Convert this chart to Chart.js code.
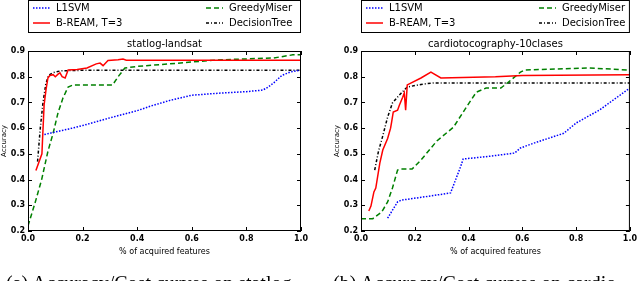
<!DOCTYPE html>
<html>
<head>
<meta charset="utf-8">
<script src="https://cdn.jsdelivr.net/npm/chart.js@4/dist/chart.umd.min.js"></script>
<style>
  html, body { margin: 0; padding: 0; background: #fff; overflow: hidden; }
  body { width: 640px; height: 281px; position: relative; }
  canvas { position: absolute; top: 0; }
  .caption { position: absolute; top: 273px; font: 20px "Liberation Serif", serif; line-height: 20px; white-space: nowrap; color: #000; }
</style>
</head>
<body>
<canvas id="landsat" width="320" height="281" style="left:0"></canvas>
<canvas id="cardio" width="320" height="281" style="left:320px"></canvas>
<div class="caption" style="left:6px">(a) Accuracy/Cost curves on statlog</div>
<div class="caption" style="left:333px">(b) Accuracy/Cost curves on cardio</div>
<script>
// tick labels shared by both panels
const xTicks = [0.0, 0.2, 0.4, 0.6, 0.8, 1.0];
const yTicks = [0.2, 0.3, 0.4, 0.5, 0.6, 0.7, 0.8, 0.9];

// statlog-landsat, [fraction of features, accuracy]
const landsatL1SVM = [[0.06,0.575],[0.1,0.585],[0.15,0.597],[0.2,0.61],[0.3,0.64],[0.4,0.668],[0.45,0.686],[0.52,0.708],[0.6,0.728],[0.7,0.736],[0.8,0.742],[0.86,0.748],[0.88,0.76],[0.9,0.776],[0.93,0.805],[0.96,0.818],[1.0,0.826]];
const landsatBream = [[0.029,0.435],[0.051,0.5],[0.053,0.55],[0.059,0.69],[0.066,0.75],[0.073,0.795],[0.08,0.805],[0.092,0.808],[0.1,0.8],[0.11,0.81],[0.117,0.815],[0.125,0.8],[0.136,0.795],[0.147,0.826],[0.18,0.828],[0.216,0.834],[0.25,0.85],[0.264,0.853],[0.275,0.843],[0.293,0.863],[0.33,0.866],[0.348,0.869],[0.36,0.864],[0.5,0.864],[1.0,0.864]];
const landsatGreedy = [[0.0,0.22],[0.026,0.31],[0.05,0.4],[0.073,0.51],[0.092,0.58],[0.11,0.66],[0.128,0.717],[0.147,0.76],[0.165,0.768],[0.31,0.768],[0.33,0.8],[0.355,0.834],[0.4,0.84],[0.52,0.85],[0.69,0.865],[0.9,0.873],[0.97,0.885],[1.0,0.885]];
const landsatTree = [[0.035,0.47],[0.045,0.6],[0.055,0.7],[0.065,0.77],[0.075,0.805],[0.09,0.815],[0.12,0.823],[0.2,0.825],[1.0,0.825]];

// cardiotocography-10clases
const cardioL1SVM = [[0.099,0.25],[0.136,0.313],[0.15,0.32],[0.25,0.335],[0.333,0.348],[0.37,0.449],[0.38,0.48],[0.473,0.49],[0.527,0.497],[0.571,0.503],[0.593,0.523],[0.655,0.546],[0.754,0.58],[0.8,0.62],[0.886,0.67],[1.0,0.756]];
const cardioBream = [[0.029,0.278],[0.037,0.297],[0.048,0.352],[0.055,0.367],[0.07,0.464],[0.081,0.515],[0.099,0.56],[0.11,0.6],[0.114,0.624],[0.12,0.663],[0.136,0.67],[0.143,0.69],[0.155,0.72],[0.161,0.737],[0.166,0.67],[0.172,0.768],[0.223,0.795],[0.26,0.818],[0.297,0.795],[0.5,0.8],[0.6,0.805],[1.0,0.808]];
const cardioGreedy = [[0.0,0.248],[0.044,0.248],[0.077,0.274],[0.099,0.313],[0.117,0.367],[0.136,0.437],[0.15,0.441],[0.19,0.441],[0.223,0.476],[0.282,0.55],[0.344,0.604],[0.392,0.682],[0.429,0.74],[0.465,0.756],[0.52,0.756],[0.545,0.776],[0.593,0.818],[0.608,0.826],[0.84,0.834],[1.0,0.826]];
const cardioTree = [[0.051,0.437],[0.065,0.51],[0.08,0.566],[0.099,0.643],[0.117,0.698],[0.15,0.737],[0.172,0.76],[0.223,0.77],[0.27,0.776],[1.0,0.776]];

const seriesNames = ['L1SVM', 'B-REAM, T=3', 'GreedyMiser', 'DecisionTree'];
const seriesColors = ['#0000ff', '#ff0000', '#008000', '#000000'];
const seriesDash = [[1.5, 1.5], [], [5, 3], [3, 2, 1, 2]];

const FONT = '"DejaVu Sans", sans-serif';

function toPoints(pairs) {
  return pairs.map(p => ({ x: p[0], y: p[1] }));
}

// matplotlib-like box: frame, inward ticks, title and a 2-column legend above
const mplBox = {
  id: 'mplBox',
  afterDraw(chart) {
    const { ctx, chartArea: a, scales } = chart;
    ctx.save();
    ctx.strokeStyle = '#000';
    ctx.lineWidth = 1;
    ctx.setLineDash([]);
    ctx.strokeRect(a.left + 0.5, a.top + 0.5, a.right - a.left - 1, a.bottom - a.top - 1);
    ctx.beginPath();
    xTicks.forEach(v => {
      const px = Math.round(scales.x.getPixelForValue(v)) + 0.5;
      ctx.moveTo(px, a.bottom); ctx.lineTo(px, a.bottom - 4);
      ctx.moveTo(px, a.top); ctx.lineTo(px, a.top + 4);
    });
    yTicks.forEach(v => {
      const py = Math.round(scales.y.getPixelForValue(v)) + 0.5;
      ctx.moveTo(a.left, py); ctx.lineTo(a.left + 4, py);
      ctx.moveTo(a.right, py); ctx.lineTo(a.right - 4, py);
    });
    ctx.stroke();

    // title
    ctx.fillStyle = '#000';
    ctx.font = '10px ' + FONT;
    ctx.textAlign = 'center';
    ctx.textBaseline = 'middle';
    ctx.fillText(chart.options.plugins.boxTitle, (a.left + a.right) / 2, 44);

    // legend
    ctx.strokeRect(a.left + 0.5, 0.5, a.right - a.left - 1, 32);
    ctx.font = '10px ' + FONT;
    ctx.textAlign = 'left';
    const cols = [a.left + 5, a.left + 178];
    const rows = [8, 23];
    chart.data.datasets.forEach((ds, i) => {
      const x0 = cols[Math.floor(i / 2)];
      const y0 = rows[i % 2];
      ctx.strokeStyle = ds.borderColor;
      ctx.lineWidth = ds.borderWidth;
      ctx.setLineDash(ds.borderDash);
      ctx.beginPath();
      ctx.moveTo(x0, y0); ctx.lineTo(x0 + 17, y0);
      ctx.stroke();
      ctx.fillText(ds.label, x0 + 23, y0);
    });
    ctx.restore();
  }
};

function makeChart(id, title, lists, yAxisWidth, yTitlePad, rightPad) {
  new Chart(document.getElementById(id), {
    type: 'line',
    data: {
      datasets: lists.map((pairs, i) => ({
        label: seriesNames[i],
        data: toPoints(pairs),
        borderColor: seriesColors[i],
        borderWidth: 1.5,
        borderDash: seriesDash[i],
        pointRadius: 0,
        tension: 0,
        fill: false
      }))
    },
    options: {
      responsive: false,
      animation: false,
      devicePixelRatio: 1,
      layout: { padding: { top: 51, right: rightPad, bottom: 24, left: 0 } },
      plugins: { legend: { display: false }, tooltip: { enabled: false }, boxTitle: title },
      scales: {
        x: {
          type: 'linear', min: 0, max: 1,
          afterBuildTicks: s => { s.ticks = xTicks.map(v => ({ value: v })); },
          afterFit: s => { s.height = 26; },
          grid: { display: false, drawTicks: false },
          border: { display: false },
          ticks: { color: '#000', padding: 3, maxRotation: 0, font: { family: FONT, size: 8, weight: 'bold' }, callback: v => v.toFixed(1) },
          title: { display: true, text: '% of acquired features', color: '#000', padding: 0, font: { family: FONT, size: 8 } }
        },
        y: {
          type: 'linear', min: 0.2, max: 0.9,
          afterBuildTicks: s => { s.ticks = yTicks.map(v => ({ value: v })); },
          afterFit: s => { s.width = yAxisWidth; },
          grid: { display: false, drawTicks: false },
          border: { display: false },
          ticks: { color: '#000', padding: 3, font: { family: FONT, size: 8, weight: 'bold' }, callback: v => v.toFixed(1) },
          title: { display: true, text: 'Accuracy', color: '#000', padding: { top: yTitlePad, bottom: 0 }, font: { family: FONT, size: 7 } }
        }
      }
    },
    plugins: [mplBox]
  });
}

makeChart('landsat', 'statlog-landsat', [landsatL1SVM, landsatBream, landsatGreedy, landsatTree], 28, 0, 19);
makeChart('cardio', 'cardiotocography-10clases', [cardioL1SVM, cardioBream, cardioGreedy, cardioTree], 41, 13, 6);
</script>
</body>
</html>
